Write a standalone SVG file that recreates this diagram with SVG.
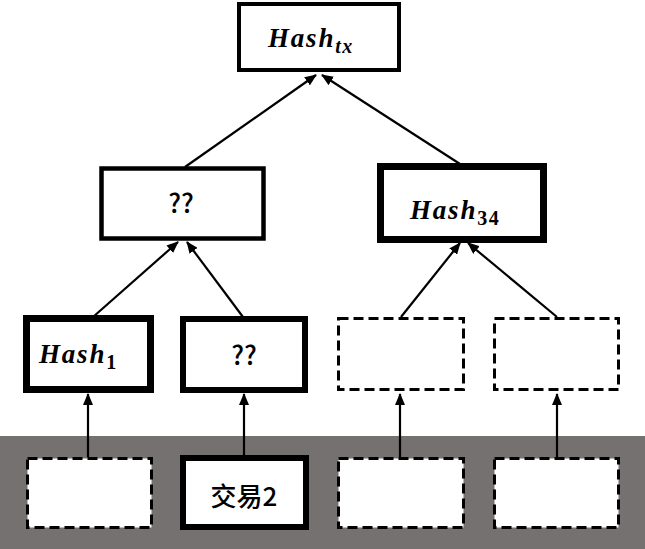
<svg xmlns="http://www.w3.org/2000/svg" width="645" height="549" viewBox="0 0 645 549">
<style>
.box{fill:#fff;stroke:#000}
.dash{fill:#fff;stroke:#000;stroke-width:3;stroke-dasharray:10 5}
.hash{font-family:"Liberation Serif","DejaVu Serif",serif;font-weight:bold;font-style:italic;font-size:27px;letter-spacing:1.8px;fill:#000}
.sub{font-size:20px;letter-spacing:1.5px}
.num{font-style:normal}
.q{font-family:"Noto Sans CJK SC","Liberation Sans",sans-serif;font-weight:500;font-size:26px;fill:#000;text-anchor:middle}
.cjk{font-family:"Noto Sans CJK SC","Liberation Sans",sans-serif;font-weight:500;font-size:26px;fill:#000;text-anchor:middle}
.conn line{stroke:#000;stroke-width:2.2;marker-end:url(#ah)}
</style>
<defs>
<marker id="ah" markerWidth="12" markerHeight="10" refX="11" refY="5" orient="auto" markerUnits="userSpaceOnUse">
<path d="M0,0 L12,5 L0,10 z" fill="#000"/>
</marker>
</defs>
<rect x="0" y="436" width="645" height="113" fill="#767171"/>
<g id="hash_tx"><rect class="box" x="239" y="4" width="160" height="66" stroke-width="4"/><text class="hash" x="268" y="47">Hash<tspan class="sub" dy="6">tx</tspan></text></g>
<g id="unknown_12"><rect class="box" x="101.5" y="168.5" width="162" height="70" stroke-width="4.5"/><text class="q" x="181" y="213">??</text></g>
<g id="hash_34"><rect class="box" x="380.5" y="166.5" width="163" height="73" stroke-width="7"/><text class="hash" x="410" y="219">Hash<tspan class="sub num" dy="6">34</tspan></text></g>
<g id="hash_1"><rect class="box" x="26.5" y="318.5" width="124" height="71" stroke-width="7"/><text class="hash" x="39" y="363">Hash<tspan class="sub num" dy="6">1</tspan></text></g>
<g id="unknown_2"><rect class="box" x="183" y="319" width="122" height="71" stroke-width="6"/><text class="q" x="244" y="365">??</text></g>
<g id="leaf_hash_3"><rect class="dash" x="338.5" y="318.5" width="125" height="71"/></g>
<g id="leaf_hash_4"><rect class="dash" x="494.5" y="318.5" width="124" height="71"/></g>
<g id="tx_1"><rect class="dash" x="27.5" y="458.5" width="124" height="69"/></g>
<g id="tx_2"><rect class="box" x="183" y="458" width="123" height="69" stroke-width="6"/><text class="cjk" x="244" y="506">交易2</text></g>
<g id="tx_3"><rect class="dash" x="338.5" y="458.5" width="125" height="69"/></g>
<g id="tx_4"><rect class="dash" x="494.5" y="458.5" width="124" height="69"/></g>
<g id="connectors" class="conn">
<line x1="185" y1="167" x2="316" y2="75"/>
<line x1="460" y1="164" x2="322" y2="75"/>
<line x1="93" y1="317" x2="178" y2="242"/>
<line x1="243" y1="317" x2="187" y2="242"/>
<line x1="401" y1="317" x2="460" y2="243"/>
<line x1="557" y1="317" x2="468" y2="243"/>
<line x1="88" y1="457" x2="88" y2="394"/>
<line x1="244" y1="456" x2="244" y2="394"/>
<line x1="400" y1="457" x2="400" y2="394"/>
<line x1="557" y1="457" x2="557" y2="394"/>
</g>
</svg>
